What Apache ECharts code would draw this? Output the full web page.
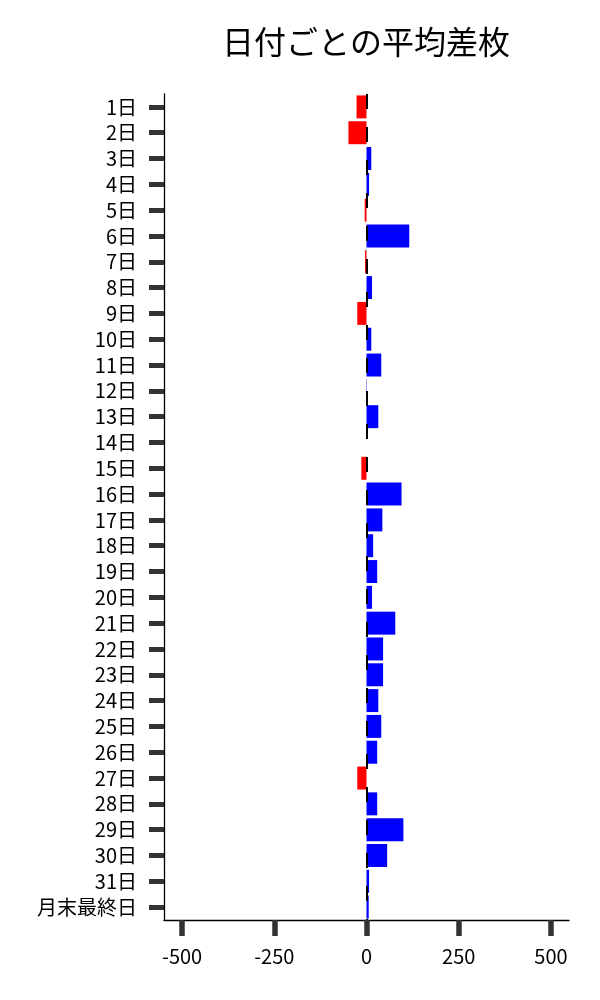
<!DOCTYPE html>
<html>
<head>
<meta charset="utf-8">
<script src="https://cdn.jsdelivr.net/npm/echarts@6/dist/echarts.min.js"></script>
<style>
  html, body { margin: 0; padding: 0; background: #fff; }
  #chart { width: 600px; height: 1000px; }
</style>
</head>
<body>
<div id="chart"></div>
<script>
const days = ['1日', '2日', '3日', '4日', '5日', '6日', '7日', '8日', '9日', '10日',
  '11日', '12日', '13日', '14日', '15日', '16日', '17日', '18日', '19日', '20日',
  '21日', '22日', '23日', '24日', '25日', '26日', '27日', '28日', '29日', '30日',
  '31日', '月末最終日']
const avgDiff = [-27, -49, 13, 7, -5, 116, -4, 15, -25, 13,
  40, 1, 32, 0, -14, 95, 43, 18, 29, 15,
  78, 45, 45, 32, 40, 29, -25, 29, 100, 56,
  7, 6]
const xTicks = [-500, -250, 0, 250, 500]

const font = 'Noto Sans CJK JP'
const chart = echarts.init(document.getElementById('chart'))

chart.setOption({
  animation: false,
  title: {
    text: '日付ごとの平均差枚',
    left: 361,
    top: 21,
    textAlign: 'center',
    textStyle: { fontFamily: font, fontSize: 32, fontWeight: 'normal', color: '#000' }
  },
  grid: { left: 164, right: 31, top: 94, bottom: 80 },
  xAxis: {
    type: 'value',
    min: -549,
    max: 549,
    splitLine: { show: false },
    axisLine: { show: true, lineStyle: { color: '#000', width: 1.3 } },
    axisTick: { show: true, customValues: xTicks, length: 16, lineStyle: { color: '#333', width: 5.5 } },
    axisLabel: { customValues: xTicks, margin: 26, fontFamily: font, fontSize: 20, color: '#000' }
  },
  yAxis: {
    type: 'category',
    data: days,
    inverse: true,
    axisLine: { show: true, onZero: false, lineStyle: { color: '#000', width: 1.3 } },
    axisTick: { show: true, interval: 0, alignWithLabel: true, length: 15, lineStyle: { color: '#333', width: 5 } },
    axisLabel: { interval: 0, margin: 27, fontFamily: font, fontSize: 20, color: '#000' }
  },
  series: [{
    type: 'bar',
    data: avgDiff,
    barCategoryGap: '11%',
    itemStyle: {
      color: p => (p.value < 0 ? '#ff0000' : '#0000ff')
    },
    markLine: {
      silent: true,
      symbol: 'none',
      label: { show: false },
      lineStyle: { color: '#000', type: [15, 18], width: 2 },
      data: [{ xAxis: 0 }]
    }
  }]
})
</script>
</body>
</html>
